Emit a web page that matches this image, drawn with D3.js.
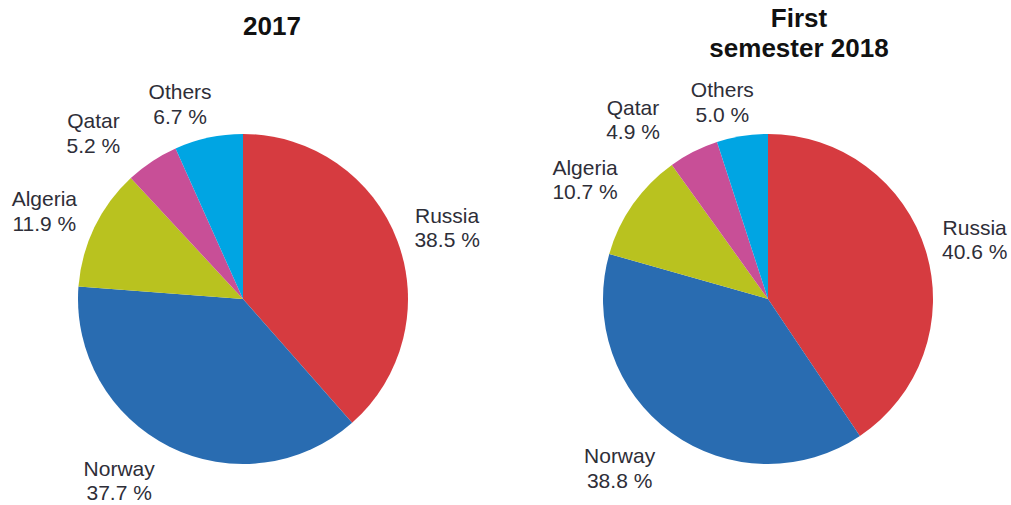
<!DOCTYPE html>
<html>
<head>
<meta charset="utf-8">
<script src="https://cdn.jsdelivr.net/npm/d3@7"></script>
<style>
  html, body { margin: 0; padding: 0; background: #fff; }
  svg { display: block; }
</style>
</head>
<body>
<svg id="chart" width="1011" height="505"></svg>
<script>
// ---- data ----
const categories = ["Russia", "Norway", "Algeria", "Qatar", "Others"];
const values2017 = [38.5, 37.7, 11.9, 5.2, 6.7];
const values2018 = [40.6, 38.8, 10.7, 4.9, 5.0];
const titles2017 = ["2017"];
const titles2018 = ["First", "semester 2018"];

// ---- styles / layout ----
const colors = ["#d63b40", "#296cb1", "#b9c21f", "#c84f97", "#00a5e3"];
const W = 1011, H = 505;
const radius = 165;
const labelRadius = 215;
const charts = [
  { values: values2017, title: titles2017, cx: 243, cy: 299, titleX: 272, titleY: 35,
    nudges: [[3, 5], [-28, -10], [-5, 6], [-31, 14], [-18, 16]] },
  { values: values2018, title: titles2018, cx: 768, cy: 299, titleX: 799, titleY: 27,
    nudges: [[1, 4], [-22, -4], [-7, 5], [-38, 13], [-12, 16]] }
];

const svg = d3.select("#chart");
const pie = d3.pie().sort(null).value(d => d.v);
const arc = d3.arc().innerRadius(0).outerRadius(radius);
const labelArc = d3.arc().innerRadius(labelRadius).outerRadius(labelRadius);
const fmt = d3.format(".1f");

charts.forEach(ch => {
  const data = categories.map((c, i) => ({ c, v: ch.values[i], i }));
  const g = svg.append("g").attr("transform", `translate(${ch.cx},${ch.cy})`);
  const arcs = pie(data);

  g.selectAll("path.slice")
    .data(arcs)
    .join("path")
    .attr("class", "slice")
    .attr("d", arc)
    .attr("fill", d => colors[d.data.i]);

  const labels = g.selectAll("text.lbl")
    .data(arcs)
    .join("text")
    .attr("class", "lbl")
    .attr("text-anchor", "middle")
    .attr("font-family", "Liberation Sans, Arial, sans-serif")
    .attr("font-size", 21)
    .attr("fill", "#2e2e38")
    .attr("transform", d => {
      const [x, y] = labelArc.centroid(d);
      const n = ch.nudges[d.data.i];
      return `translate(${x + n[0]},${y + n[1] - 5.5})`;
    });
  labels.append("tspan").attr("x", 0).attr("y", 0).text(d => d.data.c);
  labels.append("tspan").attr("x", 0).attr("y", 24.5).text(d => fmt(d.data.v) + " %");

  const t = svg.append("text")
    .attr("text-anchor", "middle")
    .attr("font-family", "Liberation Sans, Arial, sans-serif")
    .attr("font-weight", "bold")
    .attr("font-size", 26)
    .attr("fill", "#111");
  ch.title.forEach((line, k) => {
    t.append("tspan").attr("x", ch.titleX).attr("y", ch.titleY + k * 30).text(line);
  });
});
</script>
</body>
</html>
